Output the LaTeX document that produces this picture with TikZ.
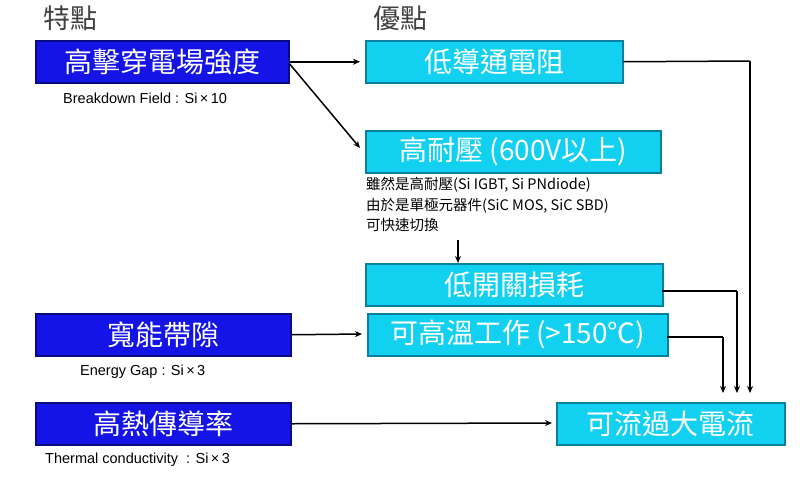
\documentclass[tikz,border=0pt]{standalone}
\usepackage{fontspec}
\setmainfont{Liberation Sans}
\newfontfamily\cjk{Noto Sans CJK TC}
\usetikzlibrary{arrows.meta}
\definecolor{dblue}{HTML}{1414E6}
\definecolor{dblueb}{HTML}{0A0A80}
\definecolor{cyanf}{HTML}{12D0F0}
\definecolor{cyanb}{HTML}{0A7FA0}
\begin{document}
\begin{tikzpicture}[x=1pt,y=-1pt,
 box/.style={draw,line width=1.5pt,minimum height=42pt,inner sep=0pt,text=white,font=\cjk\fontsize{28}{30}\selectfont,anchor=north west},
 bbox/.style={box,fill=dblue,draw=dblueb},
 cbox/.style={box,fill=cyanf,draw=cyanb},
 lab/.style={font=\fontsize{14.5}{16}\selectfont,anchor=west,inner sep=0pt},
 arr/.style={-{Stealth[length=7pt,width=6pt]},line width=1.5pt},
 ln/.style={line width=1.5pt}]
\useasboundingbox (0,0) rectangle (800,493);
\node[font=\cjk\fontsize{27}{29}\selectfont,text=black!75,anchor=west,inner sep=0pt] (t1) at (43,18) {特點};
\node[font=\cjk\fontsize{27}{29}\selectfont,text=black!75,anchor=west,inner sep=0pt] (t2) at (373,18) {優點};
\node[bbox,minimum width=253pt] (b1) at (35,40) {高擊穿電場強度};
\node[lab] (l1) at (63,98) {Breakdown Field : Si\,×\,10};
\node[bbox,minimum width=255pt] (b2) at (35,313) {寬能帶隙};
\node[lab] (l2) at (80,372) {Energy Gap : Si\,×\,3};
\node[bbox,minimum width=255pt] (b3) at (35,402) {高熱傳導率};
\node[lab] (l3) at (45,460) {Thermal conductivity \ : Si\,×\,3};
\node[cbox,minimum width=257pt] (c1) at (365,40) {低導通電阻};
\node[cbox,minimum width=295pt] (c2) at (365,130) {高耐壓 (600V以上)};
\node[anchor=north west,inner sep=0pt,align=left,font=\cjk\fontsize{14.5}{20.5}\selectfont] (tx) at (366,177) {雖然是高耐壓(Si IGBT, Si PNdiode)\\由於是單極元器件(SiC MOS, SiC SBD)\\可快速切換};
\node[cbox,minimum width=297pt] (c3) at (365,263) {低開關損耗};
\node[cbox,minimum width=300pt] (c4) at (367,313) {可高溫工作 (>150℃)};
\node[cbox,minimum width=228pt] (c5) at (556,402) {可流過大電流};
\coordinate (k1) at (750,61);
\coordinate (k2) at (737,291);
\coordinate (k3) at (723,337);
\draw[arr] (b1.east) -- (c1.west -| 360,0);
\draw[arr] (b1.east) ++(0,2) -- (360,148);
\draw[arr] (458,240) -- (c3.north -| 458,0);
\draw[arr] (b2.east) -- (362,334);
\draw[arr] (b3.east) -- (552,423);
\draw[ln] (c1.east) -- (k1);
\draw[arr] (k1) -- (750,393);
\draw[ln] (662,291) -- (k2);
\draw[arr] (k2) -- (737,393);
\draw[ln] (667,337) -- (k3);
\draw[arr] (k3) -- (723,393);
\end{tikzpicture}
\end{document}
